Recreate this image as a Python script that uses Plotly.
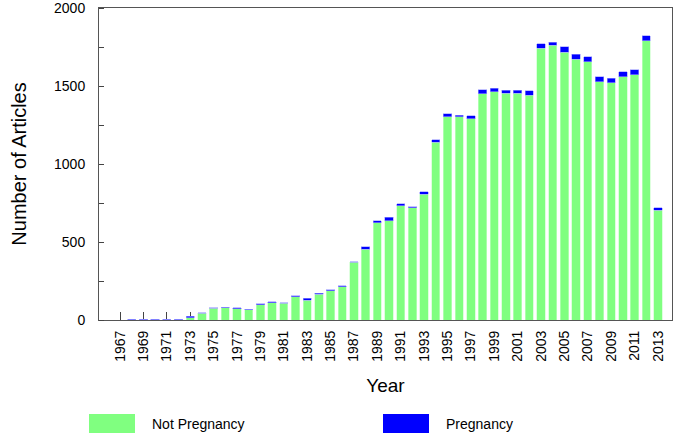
import plotly.graph_objects as go

years = list(range(1967, 2014))
not_pregnancy = [0, 1, 2, 2, 1, 2, 15, 42, 74, 78, 72, 65, 98, 112, 106, 148, 128, 166, 188, 212,
                 369, 455, 624, 637, 733, 719, 806, 1139, 1303, 1303, 1289, 1450, 1464, 1455, 1455, 1440,
                 1741, 1761, 1716, 1671, 1654, 1528, 1521, 1560, 1571, 1791, 703]
pregnancy = [0, 3, 3, 3, 3, 3, 10, 5, 5, 5, 5, 5, 5, 5, 5, 6, 13, 5, 6, 8,
             5, 15, 13, 21, 13, 8, 17, 15, 19, 11, 21, 26, 23, 19, 19, 28,
             30, 21, 36, 34, 32, 30, 28, 30, 34, 32, 15]
tick_years = list(range(1967, 2014, 2))
y_labels = [0, 500, 1000, 1500, 2000]

font = "Liberation Sans, Arial, sans-serif"

fig = go.Figure()
fig.add_bar(x=years, y=not_pregnancy, name="Not Pregnancy",
            marker=dict(color="#80FF80", line=dict(color="#C8FFC8", width=0.6)))
fig.add_bar(x=years, y=pregnancy, name="Pregnancy",
            marker=dict(color="#0000FF", line=dict(color="#9999FF", width=0.6)))

fig.update_layout(
    barmode="stack", bargap=0.29,
    width=686, height=442,
    margin=dict(l=99, r=14, t=8, b=122),
    plot_bgcolor="white", paper_bgcolor="white",
    showlegend=False,
    font=dict(family=font, color="black"),
)
fig.update_xaxes(
    range=[1965.2, 2014.2], automargin=False,
    tickvals=tick_years, ticktext=[str(y) for y in tick_years],
    tickangle=-90, ticks="inside", ticklen=8, tickcolor="#444",
    tickfont=dict(size=14), ticklabelstandoff=4,
    showline=True, linecolor="#555", linewidth=1, mirror=True,
    showgrid=False, layer="below traces",
    title=dict(text="Year", font=dict(size=19), standoff=17),
)
fig.update_yaxes(
    range=[0, 2000], automargin=False, ticklabeloverflow="allow",
    tickvals=y_labels, ticktext=[str(v) for v in y_labels], ticks="",
    tickfont=dict(size=14), ticklabelstandoff=10,
    minor=dict(ticks="inside", dtick=250, ticklen=5, tickcolor="#444"),
    showline=True, linecolor="#555", linewidth=1, mirror=True,
    showgrid=False, zeroline=False, layer="below traces",
    title=dict(text="Number of Articles", font=dict(size=20), standoff=22),
)

# legend drawn below the plot, as in the original
legend_items = [("Not Pregnancy", "#80FF80", 89), ("Pregnancy", "#0000FF", 383)]
for label, color, px0 in legend_items:
    fig.add_shape(type="rect", xref="paper", yref="paper",
                  x0=(px0 - 99) / 573, x1=(px0 + 46 - 99) / 573,
                  y0=-(433 - 320) / 312, y1=-(414 - 320) / 312,
                  fillcolor=color, line=dict(width=0))
    fig.add_annotation(text=label, xref="paper", yref="paper",
                       x=(px0 + 61 - 99) / 573, y=-(424 - 320) / 312,
                       xanchor="left", yanchor="middle", showarrow=False,
                       font=dict(size=14, color="black"))

# page body has a default 8px margin; drop it so the figure sits at the window corner
fig.write_html("out.html", config={"displayModeBar": False},
               post_script="document.body.style.margin='0';")
